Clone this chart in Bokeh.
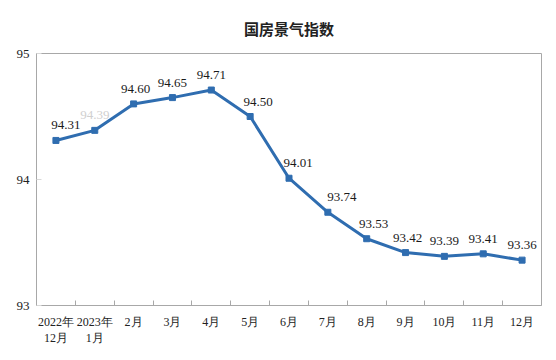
from bokeh.plotting import figure
from bokeh.models import ColumnDataSource, FixedTicker, Range1d
from bokeh.core.properties import value
from bokeh.embed import file_html
from bokeh.resources import INLINE

categories = ["2022年\n12月", "2023年\n1月", "2月", "3月", "4月", "5月", "6月",
              "7月", "8月", "9月", "10月", "11月", "12月"]
index_values = [94.31, 94.39, 94.60, 94.65, 94.71, 94.50, 94.01,
                93.74, 93.53, 93.42, 93.39, 93.41, 93.36]
value_labels = ["94.31", "94.39", "94.60", "94.65", "94.71", "94.50", "94.01",
                "93.74", "93.53", "93.42", "93.39", "93.41", "93.36"]
y_ticks = [93, 94, 95]

# styling only: label nudges (px) and colours
label_dx = [10, 0, 2, 0, 0, 8, 9, 14, 7, 2, 0, 0, 0]
label_colors = ["#1a1a1a", "#d0d0d0"] + ["#1a1a1a"] * 11

LINE = "#2f6db0"
FRAME = "#a8a8a8"
SERIF = "'Liberation Serif', 'Times New Roman', serif"

xs = list(range(len(categories)))
src = ColumnDataSource(dict(x=xs, y=index_values, lab=value_labels,
                            dx=label_dx, col=label_colors))

p = figure(width=548, height=352, output_backend="svg", toolbar_location=None,
           x_range=Range1d(-0.5, len(categories) - 0.5), y_range=Range1d(93, 95),
           title="国房景气指数",
           min_border_left=36, min_border_right=7, min_border_top=52, min_border_bottom=47)

p.title.align = "center"
p.title.text_font = "Noto Sans CJK SC"
p.title.text_font_size = "15px"
p.title.text_font_style = "bold"
p.title.text_color = "#222222"
p.title.standoff = 30

p.outline_line_color = FRAME
p.outline_line_width = 1
p.xgrid.grid_line_color = None
p.ygrid.grid_line_color = None
p.background_fill_color = "white"
p.border_fill_color = "white"

xa = p.xaxis[0]
xa.ticker = FixedTicker(ticks=xs, minor_ticks=[i + 0.5 for i in xs[:-1]])
xa.major_label_overrides = {i: c for i, c in zip(xs, categories)}
xa.major_tick_line_color = None
xa.minor_tick_line_color = FRAME
xa.minor_tick_in = 5
xa.minor_tick_out = 0
xa.axis_line_color = FRAME
xa.major_label_standoff = 3
xa.major_label_text_font = SERIF
xa.major_label_text_font_size = "12px"
xa.major_label_text_color = "#222222"

ya = p.yaxis[0]
ya.ticker = FixedTicker(ticks=y_ticks)
ya.minor_tick_line_color = None
ya.major_tick_line_color = "#d8d8d8"
ya.major_tick_in = 5
ya.major_tick_out = 0
ya.axis_line_color = FRAME
ya.major_label_standoff = 7
ya.major_label_text_font = SERIF
ya.major_label_text_font_size = "13px"
ya.major_label_text_color = "#222222"

p.line("x", "y", source=src, line_color=LINE, line_width=3)
p.scatter("x", "y", source=src, marker="square", size=6, color=LINE)
p.text("x", "y", text="lab", source=src, x_offset="dx", y_offset=-15,
       text_align="center", text_baseline="middle",
       text_font=value(SERIF), text_font_size="13px",
       text_color="col")

open("out.html", "w").write(file_html(p, INLINE))
